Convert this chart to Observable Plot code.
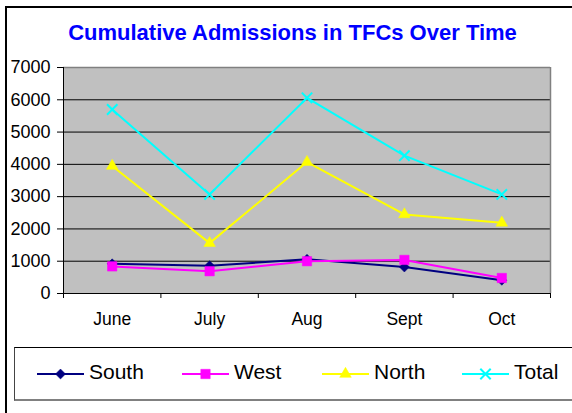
<!DOCTYPE html>
<html>
<head>
<meta charset="utf-8">
<script src="https://cdn.jsdelivr.net/npm/d3@7"></script>
<script src="https://cdn.jsdelivr.net/npm/@observablehq/plot@0.6"></script>
<style>
  html, body { margin: 0; padding: 0; background: #fff; }
  #page { position: relative; width: 572px; height: 413px; overflow: hidden; background: #fff;
          font-family: "Liberation Sans", Arial, sans-serif; }
  #outer { position: absolute; left: 5px; top: 6px; width: 640px; height: 480px;
           border-left: 2px solid #000; border-top: 2px solid #000; }
  #title { position: absolute; left: 0; top: 22px; width: 585px; text-align: center;
           font-size: 22px; line-height: 22px; font-weight: bold; color: #0000FF; }
  #chart { position: absolute; left: 0; top: 0; }
  #legend { position: absolute; left: 14px; top: 347px; width: 640px; height: 51px;
            border-top: 1.5px solid #000; border-left: 1.5px solid #444; border-bottom: 2px solid #808080; }
  .item { position: absolute; top: 0; height: 51px; }
  .item svg { position: absolute; top: 0; left: 0; }
  .item span { position: absolute; top: 13px; font-size: 21px; line-height: 21px; color: #000; white-space: nowrap; }
</style>
</head>
<body>
<div id="page">
  <div id="outer"></div>
  <div id="title">Cumulative Admissions in TFCs Over Time</div>
  <div id="chart"></div>
  <div id="legend"></div>
</div>
<script>
const months = ["June", "July", "Aug", "Sept", "Oct"];
const yTicks = [0, 1000, 2000, 3000, 4000, 5000, 6000, 7000];
const seriesNames = ["South", "West", "North", "Total"];
const seriesColors = ["#000080", "#FF00FF", "#FFFF00", "#00FFFF"];
const seriesSymbols = ["diamond2", "square", "triangle", "times"];
const seriesR = [4.5, 5.3, 4.3, 4.8];
const south = [920, 860, 1060, 820, 410];
const west = [840, 690, 1000, 1040, 480];
const north = [3950, 1560, 4070, 2450, 2190];
const total = [5700, 3070, 6060, 4270, 3070];

const seriesValues = [south, west, north, total];
const idx = months.map((m, i) => i);
const boundaries = [-0.5, 0.5, 1.5, 2.5, 3.5, 4.5];

const marks = [
  Plot.frame({fill: "#C0C0C0", stroke: null}),
  Plot.ruleY(yTicks.slice(1, -1), {stroke: "#000", strokeWidth: 1}),
  Plot.ruleY([7000], {stroke: "#808080", strokeWidth: 1.5}),
  Plot.ruleX([4.5], {stroke: "#808080", strokeWidth: 1.5}),
  Plot.ruleX([-0.5], {stroke: "#000", strokeWidth: 1}),
  Plot.ruleY([0], {stroke: "#000", strokeWidth: 1}),
  Plot.axisY({ticks: yTicks, tickSize: 6, tickPadding: 7, fontSize: 18, tickFormat: d => String(d), label: null}),
  Plot.axisX({ticks: boundaries, tickSize: 5, tickFormat: () => "", label: null}),
  Plot.axisX({ticks: idx, tickSize: 0, tickPadding: 19, fontSize: 17.5, tickFormat: i => months[i], label: null})
];

seriesValues.forEach((vals, s) => {
  const rows = idx.map(i => ({x: i, v: vals[i]}));
  marks.push(Plot.line(rows, {x: "x", y: "v", stroke: seriesColors[s], strokeWidth: 2}));
  const isStroke = seriesSymbols[s] === "times";
  marks.push(Plot.dot(rows, {
    x: "x", y: "v", symbol: () => seriesSymbols[s], r: seriesR[s],
    fill: isStroke ? "none" : seriesColors[s],
    stroke: seriesColors[s], strokeWidth: isStroke ? 2 : 0.5
  }));
});

const chart = Plot.plot({
  width: 572,
  height: 340,
  marginTop: 67,
  marginBottom: 47,
  marginLeft: 63,
  marginRight: 22,
  style: {background: "transparent", color: "#000", fontFamily: "'Liberation Sans', Arial, sans-serif", overflow: "visible"},
  x: {type: "linear", domain: [-0.5, 4.5], label: null},
  y: {domain: [0, 7000], label: null},
  symbol: {type: "identity"},
  marks
});
document.getElementById("chart").appendChild(chart);

// Legend
const legend = document.getElementById("legend");
const lineStarts = [22, 167, 307, 447];
seriesNames.forEach((name, s) => {
  const item = document.createElement("div");
  item.className = "item";
  item.style.left = lineStarts[s] + "px";
  const svg = d3.create("svg").attr("width", 50).attr("height", 51);
  svg.append("line").attr("x1", 0).attr("x2", 47).attr("y1", 26).attr("y2", 26)
     .attr("stroke", seriesColors[s]).attr("stroke-width", 2);
  const symMap = {diamond2: d3.symbolDiamond2, square: d3.symbolSquare, triangle: d3.symbolTriangle, times: d3.symbolTimes};
  const isStroke = seriesSymbols[s] === "times";
  svg.append("path")
     .attr("transform", "translate(23.5,26)")
     .attr("d", d3.symbol(symMap[seriesSymbols[s]], Math.PI * seriesR[s] * seriesR[s])())
     .attr("fill", isStroke ? "none" : seriesColors[s])
     .attr("stroke", seriesColors[s]).attr("stroke-width", isStroke ? 2 : 0.5);
  item.appendChild(svg.node());
  const span = document.createElement("span");
  span.style.left = "52px";
  span.textContent = name;
  item.appendChild(span);
  legend.appendChild(item);
});
</script>
</body>
</html>
